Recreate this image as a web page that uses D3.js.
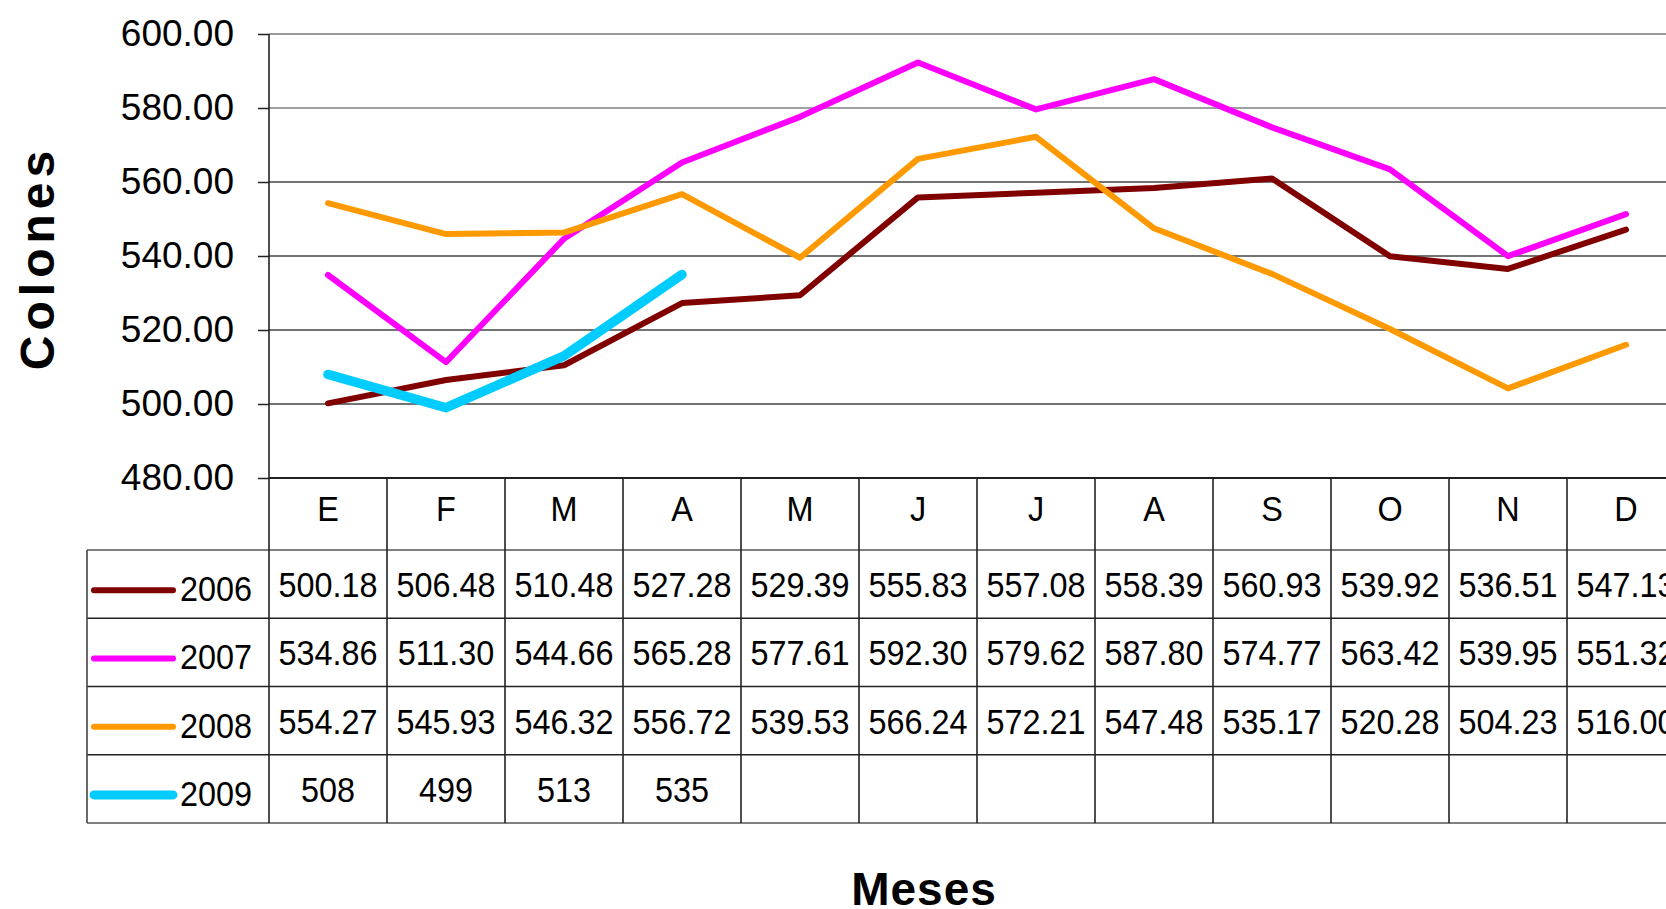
<!DOCTYPE html>
<html>
<head>
<meta charset="utf-8">
<script src="https://cdn.jsdelivr.net/npm/d3@7"></script>
<style>
  body { margin: 0; background: #fff; }
  text { font-family: "Liberation Sans", Arial, sans-serif; fill: #000; }
</style>
</head>
<body>
<svg id="chart" width="1666" height="909"></svg>
<script>
var months = ["E", "F", "M", "A", "M", "J", "J", "A", "S", "O", "N", "D"];
var years = ["2006", "2007", "2008", "2009"];
var colors = ["#800000", "#ff00ff", "#ff9900", "#00ccff"];
var v2006 = [500.18, 506.48, 510.48, 527.28, 529.39, 555.83, 557.08, 558.39, 560.93, 539.92, 536.51, 547.13];
var v2007 = [534.86, 511.30, 544.66, 565.28, 577.61, 592.30, 579.62, 587.80, 574.77, 563.42, 539.95, 551.32];
var v2008 = [554.27, 545.93, 546.32, 556.72, 539.53, 566.24, 572.21, 547.48, 535.17, 520.28, 504.23, 516.00];
var v2009 = [508, 499, 513, 535];
var decimals = [2, 2, 2, 0];
var yTicks = [480, 500, 520, 540, 560, 580, 600];

var series = [v2006, v2007, v2008, v2009];

var svg = d3.select("#chart");

// note: "top" is taken by window.top, so plot* names
var plotLeft = 269, colW = 118, plotTop = 34, plotBottom = 478;
var tableLeft = 87, headerH = 72, rowH = 68.25;
var plotRight = plotLeft + colW * months.length;

var x = d3.scaleBand()
  .domain(d3.range(months.length))
  .range([plotLeft, plotRight]);

var y = d3.scaleLinear()
  .domain([480, 600])
  .range([plotBottom, plotTop]);

// grid lines
svg.append("g")
  .selectAll("line")
  .data(yTicks.slice(1))
  .enter().append("line")
  .attr("x1", plotLeft).attr("x2", plotRight)
  .attr("y1", function(d) { return y(d); })
  .attr("y2", function(d) { return y(d); })
  .style("stroke", function(d) { return d == 600 ? "#999" : (d == 580 ? "#808080" : "#444"); })
  .style("stroke-width", function(d) { return d == 600 ? 2.2 : 1.5; });

// y axis
var yAxis = svg.append("g")
  .attr("transform", "translate(" + plotLeft + ",0)")
  .call(d3.axisLeft(y).tickValues(yTicks).tickFormat(d3.format(".2f")).tickSize(11).tickPadding(24));
yAxis.select(".domain").remove();
yAxis.selectAll(".tick line").style("stroke", "#222").style("stroke-width", 1.5);
yAxis.selectAll(".tick text")
  .style("font-size", "37px")
  .style("font-family", "'Liberation Sans', Arial, sans-serif")
  .attr("fill", "#000");

// series lines
var line = d3.line()
  .x(function(d, i) { return x(i) + x.bandwidth() / 2; })
  .y(function(d) { return y(d); });

svg.append("g")
  .selectAll("path")
  .data(series)
  .enter().append("path")
  .attr("d", line)
  .style("fill", "none")
  .style("stroke", function(d, i) { return colors[i]; })
  .style("stroke-width", function(d, i) { return i == 3 ? 9.5 : 6; })
  .style("stroke-linecap", "round")
  .style("stroke-linejoin", "round");

// data table
var tableBottom = plotBottom + headerH + rowH * years.length;
var table = svg.append("g");

// horizontal lines
table.append("line")
  .attr("x1", plotLeft).attr("x2", plotRight)
  .attr("y1", plotBottom).attr("y2", plotBottom)
  .style("stroke", "#222").style("stroke-width", 2);
table.selectAll("line.row")
  .data(d3.range(years.length + 1))
  .enter().append("line")
  .attr("class", "row")
  .attr("x1", tableLeft).attr("x2", plotRight)
  .attr("y1", function(d) { return plotBottom + headerH + d * rowH; })
  .attr("y2", function(d) { return plotBottom + headerH + d * rowH; })
  .style("stroke", function(d) { return (d == 0 || d == years.length) ? "#555" : "#222"; })
  .style("stroke-width", 1.6);

// vertical lines
table.selectAll("line.col")
  .data(d3.range(months.length + 1))
  .enter().append("line")
  .attr("class", "col")
  .attr("x1", function(d) { return plotLeft + d * colW; })
  .attr("x2", function(d) { return plotLeft + d * colW; })
  .attr("y1", function(d) { return d == 0 ? plotTop : plotBottom; })
  .attr("y2", tableBottom)
  .style("stroke", "#222").style("stroke-width", 1.6);
table.append("line")
  .attr("x1", tableLeft).attr("x2", tableLeft)
  .attr("y1", plotBottom + headerH).attr("y2", tableBottom)
  .style("stroke", "#444").style("stroke-width", 1.6);

// header letters
table.selectAll("text.month")
  .data(months)
  .enter().append("text")
  .attr("class", "month")
  .attr("text-anchor", "middle")
  .attr("transform", function(d, i) {
    return "translate(" + (x(i) + x.bandwidth() / 2) + "," + (plotBottom + 43) + ") scale(0.9,1)";
  })
  .style("font-size", "36px")
  .text(function(d) { return d; });

// rows
var rows = table.selectAll("g.rowg")
  .data(series)
  .enter().append("g")
  .attr("class", "rowg")
  .attr("transform", function(d, i) {
    return "translate(0," + (plotBottom + headerH + i * rowH + rowH / 2) + ")";
  });

rows.append("line")
  .attr("x1", 94).attr("x2", 173)
  .attr("y1", 6).attr("y2", 6)
  .style("stroke", function(d, i) { return colors[i]; })
  .style("stroke-width", function(d, i) { return i == 3 ? 9 : 6; })
  .style("stroke-linecap", "round");

rows.append("text")
  .attr("transform", "translate(180,17) scale(0.9,1)")
  .style("font-size", "36px")
  .text(function(d, i) { return years[i]; });

rows.each(function(vals, si) {
  var fmt = d3.format("." + decimals[si] + "f");
  d3.select(this).selectAll("text.val")
    .data(vals)
    .enter().append("text")
    .attr("class", "val")
    .attr("text-anchor", "middle")
    .attr("transform", function(d, i) {
      return "translate(" + (x(i) + x.bandwidth() / 2) + ",13) scale(0.9,1)";
    })
    .style("font-size", "36px")
    .text(function(d) { return fmt(d); });
});

// axis titles
svg.append("text")
  .attr("transform", "translate(54,258) rotate(-90)")
  .attr("text-anchor", "middle")
  .style("font-size", "48px")
  .style("font-weight", "bold")
  .style("letter-spacing", "5px")
  .text("Colones");

svg.append("text")
  .attr("x", 924)
  .attr("y", 905)
  .attr("text-anchor", "middle")
  .style("font-size", "46px")
  .style("font-weight", "bold")
  .style("letter-spacing", "1px")
  .text("Meses");
</script>
</body>
</html>
